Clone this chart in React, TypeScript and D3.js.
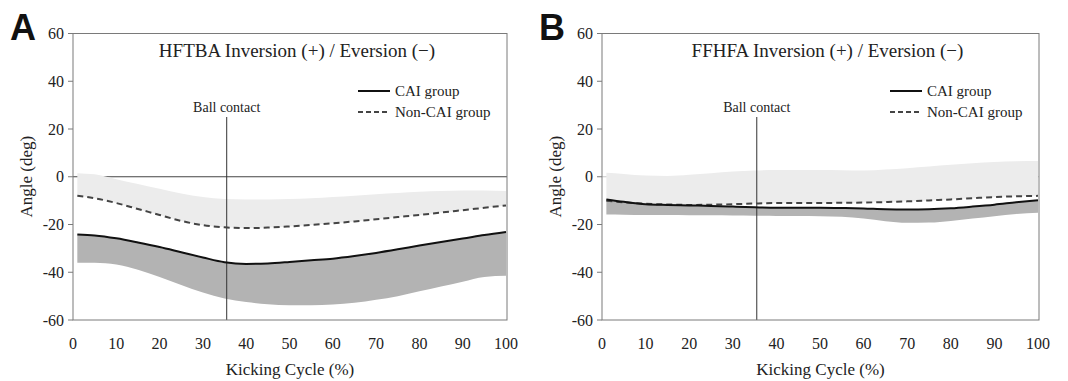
import React from "react";
import * as d3 from "d3";

const cyclePct = [1, 5, 10, 15, 20, 25, 30, 35, 40, 45, 50, 55, 60, 65, 70, 75, 80, 85, 90, 95, 100];

// Panel A: HFTBA
const hftbaNonCAI = [-8, -9, -11, -13.5, -16, -18.5, -20.3, -21.2, -21.5, -21.3, -20.8, -20.2, -19.5, -18.7, -17.8, -16.9, -16, -15, -14, -13, -12];
const hftbaNonCAIUpper = [1.5, 1, -1, -3, -5, -7, -8.5, -9.3, -9.5, -9.5, -9.3, -9, -8.5, -8, -7.3, -6.8, -6.3, -6, -5.8, -5.8, -6];
const hftbaCAI = [-24.2, -24.6, -25.8, -27.5, -29.4, -31.6, -33.8, -35.8, -36.5, -36.3, -35.7, -35, -34.3, -33.2, -31.9, -30.4, -28.8, -27.3, -25.9, -24.4, -23.1];
const hftbaCAILower = [-36, -36, -36.8, -39, -42, -45.3, -48.5, -51, -52.5, -53.4, -53.8, -53.8, -53.5, -52.8, -51.5, -50, -48, -46, -44, -42, -41.5];

// Panel B: FFHFA
const ffhfaNonCAI = [-10.1, -10.7, -11.3, -11.6, -11.8, -11.7, -11.5, -11.2, -11, -11, -11, -10.9, -10.8, -10.6, -10.3, -9.9, -9.5, -9, -8.5, -8.2, -8];
const ffhfaNonCAIUpper = [1.7, 1.2, 0.5, 0.3, 0.8, 1.5, 2.2, 2.6, 2.8, 2.8, 2.8, 2.7, 2.6, 3, 3.6, 4.3, 5, 5.7, 6.2, 6.5, 6.6];
const ffhfaCAI = [-9.5, -10.5, -11.5, -11.8, -12, -12.2, -12.5, -12.8, -13, -13, -13, -13.1, -13.3, -13.6, -13.7, -13.6, -13.2, -12.5, -11.7, -10.7, -9.8];
const ffhfaCAILower = [-15.8, -15.9, -16, -16, -16.1, -16.1, -16.2, -16.3, -16.4, -16.4, -16.5, -16.8, -17.5, -18.6, -19.3, -19.2, -18.5, -17.5, -16.5, -15.6, -15.1];

const xTicks = [0, 10, 20, 30, 40, 50, 60, 70, 80, 90, 100];
const yTicks = [-60, -40, -20, 0, 20, 40, 60];
const ballContact = 35.5;

const panelLetters = ["A", "B"];
const titles = ["HFTBA Inversion (+) / Eversion (\u2212)", "FFHFA Inversion (+) / Eversion (\u2212)"];
const legendLabels = ["CAI group", "Non-CAI group"];

const SERIF = "'Liberation Serif', 'Times New Roman', serif";

type PanelProps = {
  left: number;
  right: number;
  letter: string;
  title: string;
  nonMean: number[];
  nonUpper: number[];
  caiMean: number[];
  caiLower: number[];
  strongZero: boolean;
};

function Panel({ left, right, letter, title, nonMean, nonUpper, caiMean, caiLower, strongZero }: PanelProps) {
  const top = 33.5;
  const bottom = 320;
  const x = d3.scaleLinear().domain([0, 100]).range([left, right - 1]);
  const y = d3.scaleLinear().domain([-60, 60]).range([bottom, top]);
  const idx = cyclePct.map((_, i) => i);
  const curve = d3.curveMonotoneX;
  const nonArea = d3
    .area<number>()
    .x((i) => x(cyclePct[i]))
    .y0((i) => y(nonMean[i]))
    .y1((i) => y(nonUpper[i]))
    .curve(curve)(idx) as string;
  const caiArea = d3
    .area<number>()
    .x((i) => x(cyclePct[i]))
    .y0((i) => y(caiLower[i]))
    .y1((i) => y(caiMean[i]))
    .curve(curve)(idx) as string;
  const lineGen = (arr: number[]) =>
    d3
      .line<number>()
      .x((i) => x(cyclePct[i]))
      .y((i) => y(arr[i]))
      .curve(curve)(idx) as string;

  const axisColor = "#7a7a7a";
  const bcX = x(ballContact);
  const legX = right - 149;
  const titleCx = (left + right) / 2 + 7;

  return (
    <g>
      <text x={left - 63} y={40} fontFamily="'Liberation Sans', Arial, sans-serif" fontWeight="bold" fontSize={36} fill="#111">
        {letter}
      </text>
      <line x1={left} x2={right} y1={y(0)} y2={y(0)} stroke={strongZero ? "#444" : "#c8c8c8"} strokeWidth={1} />
      <path d={nonArea} fill="#ececec" />
      <path d={caiArea} fill="#b3b3b3" />
      <line x1={bcX} x2={bcX} y1={117} y2={bottom} stroke="#333" strokeWidth={1} />
      <text x={bcX} y={112} textAnchor="middle" fontFamily={SERIF} fontSize={14} fill="#222">
        Ball contact
      </text>
      <path d={lineGen(nonMean)} fill="none" stroke="#444" strokeWidth={2} strokeDasharray="6,4" />
      <path d={lineGen(caiMean)} fill="none" stroke="#111" strokeWidth={2} />
      <rect x={left} y={top} width={right - left} height={bottom - top} fill="none" stroke={axisColor} strokeWidth={1} />
      {yTicks.map((t) => (
        <g key={t}>
          <line x1={left - 5} x2={left} y1={y(t)} y2={y(t)} stroke={axisColor} />
          <text x={left - 9} y={y(t)} dy="0.35em" textAnchor="end" fontFamily={SERIF} fontSize={16} fill="#222">
            {t}
          </text>
        </g>
      ))}
      {xTicks.map((t) => (
        <text key={t} x={x(t)} y={349} textAnchor="middle" fontFamily={SERIF} fontSize={16} fill="#222">
          {t}
        </text>
      ))}
      <text x={(left + right) / 2} y={375} textAnchor="middle" fontFamily={SERIF} fontSize={17} fill="#222">
        Kicking Cycle (%)
      </text>
      <text
        transform={`translate(${left - 47},${y(0)}) rotate(-90)`}
        textAnchor="middle"
        dy="0.35em"
        fontFamily={SERIF}
        fontSize={17}
        fill="#222"
      >
        Angle (deg)
      </text>
      <text x={titleCx} y={57} textAnchor="middle" fontFamily={SERIF} fontSize={19} fill="#222">
        {title}
      </text>
      <line x1={legX} x2={legX + 32} y1={91} y2={91} stroke="#111" strokeWidth={2} />
      <text x={legX + 37} y={91} dy="0.35em" fontFamily={SERIF} fontSize={15} fill="#222">
        {legendLabels[0]}
      </text>
      <line x1={legX} x2={legX + 32} y1={112} y2={112} stroke="#444" strokeWidth={2} strokeDasharray="5,3" />
      <text x={legX + 37} y={112} dy="0.35em" fontFamily={SERIF} fontSize={15} fill="#222">
        {legendLabels[1]}
      </text>
    </g>
  );
}

export default function App() {
  return (
    <svg width={1068} height={381} style={{ position: "absolute", left: 0, top: 0, background: "#fff" }}>
      <rect width={1068} height={381} fill="#fff" />
      <Panel
        left={73}
        right={507}
        letter={panelLetters[0]}
        title={titles[0]}
        nonMean={hftbaNonCAI}
        nonUpper={hftbaNonCAIUpper}
        caiMean={hftbaCAI}
        caiLower={hftbaCAILower}
        strongZero={true}
      />
      <Panel
        left={602}
        right={1039}
        letter={panelLetters[1]}
        title={titles[1]}
        nonMean={ffhfaNonCAI}
        nonUpper={ffhfaNonCAIUpper}
        caiMean={ffhfaCAI}
        caiLower={ffhfaCAILower}
        strongZero={false}
      />
    </svg>
  );
}
